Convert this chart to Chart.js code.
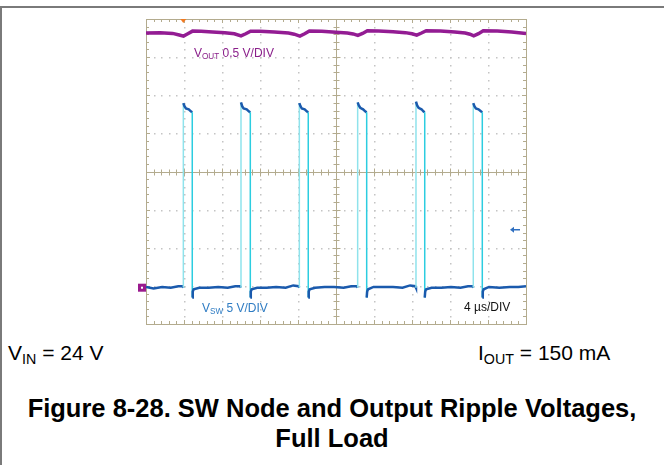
<!DOCTYPE html>
<html>
<head>
<meta charset="utf-8">
<script src="https://cdn.jsdelivr.net/npm/chart.js@4.4.1/dist/chart.umd.min.js"></script>
<style>
  body { margin: 0; background: #fff; font-family: "Liberation Sans", Arial, sans-serif; }
  #page { position: relative; width: 664px; height: 465px; overflow: hidden; }
  #frame { position: absolute; left: 0; top: 6px; width: 662px; height: 459px;
           border-top: 2px solid #7a7a7a; border-left: 2px solid #7a7a7a; }
  #wrap { position: absolute; left: 0; top: 0; width: 664px; height: 340px; }
  .lbl { position: absolute; white-space: nowrap; }
  .sub { font-size: 0.68em; position: relative; top: 0.28em; }
  #title { position: absolute; left: 0; width: 664px; top: 393px; text-align: center;
           font-weight: bold; font-size: 25.5px; line-height: 30px; color: #000; }
</style>
</head>
<body>
<div id="page">
  <div id="frame"></div>
  <div id="wrap"><canvas id="scope"></canvas></div>
  <div class="lbl" style="left:194px; top:46px; font-size:12px; color:#8a1f8a;">V<span class="sub">OUT</span> 0.5 V/DIV</div>
  <div class="lbl" style="left:202px; top:301px; font-size:12px; color:#2f7cc3;">V<span class="sub">SW</span> 5 V/DIV</div>
  <div class="lbl" style="left:464px; top:300px; font-size:12px; color:#111;">4 &micro;s/DIV</div>
  <div class="lbl" style="left:8px; top:341px; font-size:21px; color:#000;">V<span class="sub">IN</span> = 24 V</div>
  <div class="lbl" style="left:478px; top:341px; font-size:21px; color:#000;">I<span class="sub">OUT</span> = 150 mA</div>
  <div id="title">Figure 8-28. SW Node and Output Ripple Voltages,<br>Full Load</div>
</div>
<script>
// scope settings: 4 us/div, Vsw 5 V/div, Vout 0.5 V/div (AC, mV)
const timeRange = [0, 40]
const swRange = [-4.76, 35.24]
const voutRange = [-3816, 184]
const divsX = 10
const divsY = 8
const triggerTime = 3.93

// SW node, time in us, volts
const swT = [
  0, 0.8, 1.7, 2.6, 3.4, 3.85, 3.93,
  3.93, 4.05, 4.2, 4.5, 4.75, 4.87, 4.87, 4.92, 5.02, 5.6, 6.6, 7.6, 8.6, 9.4, 9.9, 10.0,
  10.0, 10.12, 10.27, 10.6, 10.85, 10.98, 10.98, 11.03, 11.13, 11.7, 12.7, 13.7, 14.7, 15.5, 16.05, 16.14,
  16.14, 16.26, 16.4, 16.7, 16.95, 17.08, 17.08, 17.13, 17.23, 17.8, 18.8, 19.8, 20.8, 21.6, 22.2, 22.28,
  22.28, 22.4, 22.55, 22.85, 23.1, 23.23, 23.23, 23.28, 23.38, 23.95, 25.0, 26.0, 27.0, 27.8, 28.35, 28.42,
  28.42, 28.54, 28.69, 29.0, 29.22, 29.34, 29.34, 29.39, 29.49, 30.06, 31.1, 32.1, 33.1, 33.9, 34.38, 34.45,
  34.45, 34.57, 34.72, 35.0, 35.28, 35.4, 35.4, 35.45, 35.55, 36.1, 37.2, 38.3, 39.2, 40.0
]
const swV = [
  0.1, -0.1, 0.1, 0.0, 0.2, 0.2, 0.0,
  24.2, 23.8, 23.5, 23.4, 23.1, 23.0, -1.3, -0.5, -0.2, 0.0, 0.0, 0.1, 0.0, 0.2, 0.2, 0.0,
  24.3, 23.8, 23.5, 23.4, 23.1, 23.0, -1.3, -0.5, -0.2, 0.0, 0.0, 0.1, 0.0, 0.3, 0.2, 0.0,
  24.2, 23.8, 23.5, 23.4, 23.1, 23.0, -1.3, -0.5, -0.2, 0.0, 0.1, 0.1, 0.0, 0.2, 0.2, 0.0,
  24.3, 23.9, 23.6, 23.4, 23.1, 23.0, -1.3, -0.5, -0.2, 0.1, 0.1, 0.1, 0.0, 0.3, 0.2, 0.0,
  24.4, 23.9, 23.6, 23.4, 23.1, 23.0, -1.3, -0.5, -0.2, 0.0, 0.0, 0.1, 0.0, 0.2, 0.2, 0.0,
  24.2, 23.8, 23.5, 23.4, 23.1, 23.0, -1.3, -0.5, -0.2, 0.1, 0.0, 0.1, 0.1, 0.2
]

// output ripple, time in us, mV
const voutT = [
  0, 1.5, 2.8, 3.5, 3.95, 4.4, 4.9, 5.8, 7.0, 8.3, 9.3, 10.0, 10.5, 11.0, 12.0, 13.5,
  15.0, 15.6, 16.2, 16.7, 17.2, 18.5, 20.0, 21.2, 21.8, 22.3, 22.8, 23.3, 24.5, 26.0,
  27.3, 28.0, 28.5, 29.0, 29.5, 31.0, 32.5, 33.6, 34.1, 34.5, 35.0, 35.5, 37.0, 38.5, 40.0
]
const voutMv = [
  0, 3, -5, -25, -40, -10, 25, 22, 14, 5, -10, -38, -10, 24, 22, 12,
  0, -15, -40, -10, 26, 22, 10, 0, -12, -32, -5, 30, 28, 18,
  5, -10, -28, 0, 30, 26, 14, 0, -15, -38, -8, 30, 26, 12, -5
]

const pts = (xs, ys) => xs.map((x, i) => ({ x: x, y: ys[i] }))

const vertical = ctx => ctx.p0.parsed.x === ctx.p1.parsed.x

// graticule, drawn from the scales
const graticule = {
  id: 'graticule',
  beforeDatasetsDraw(chart) {
    const { ctx, chartArea: a } = chart
    const xs = chart.scales.x, ys = chart.scales.y
    const tan = '#b3ab8e'
    const dx = (timeRange[1] - timeRange[0]) / divsX
    const dy = (swRange[1] - swRange[0]) / divsY
    const px = v => Math.round(xs.getPixelForValue(v)) + 0.5
    const py = v => Math.round(ys.getPixelForValue(v)) + 0.5
    ctx.save()
    // dotted major lines
    ctx.fillStyle = '#c4c4c4'
    for (let i = 1; i < divsX; i++) {
      if (i === divsX / 2) continue
      const x = px(timeRange[0] + i * dx)
      for (let k = 1; k < divsY * 5; k++) ctx.fillRect(x - 0.5, py(swRange[0] + k * dy / 5) - 0.5, 1.5, 1.5)
    }
    for (let j = 1; j < divsY; j++) {
      if (j === divsY / 2) continue
      const y = py(swRange[0] + j * dy)
      for (let k = 1; k < divsX * 5; k++) ctx.fillRect(px(timeRange[0] + k * dx / 5) - 0.5, y - 0.5, 1.5, 1.5)
    }
    // centre lines and frame
    ctx.strokeStyle = tan
    ctx.lineWidth = 1
    const cx = px(timeRange[0] + dx * divsX / 2)
    const cy = py(swRange[0] + dy * divsY / 2)
    ctx.beginPath()
    ctx.moveTo(cx, a.top); ctx.lineTo(cx, a.bottom)
    ctx.moveTo(a.left, cy); ctx.lineTo(a.right, cy)
    for (let k = 1; k < divsX * 5; k++) {
      const x = px(timeRange[0] + k * dx / 5)
      const len = k % 5 === 0 ? 4 : 3
      ctx.moveTo(x, cy - len); ctx.lineTo(x, cy + len)
      ctx.moveTo(x, a.top); ctx.lineTo(x, a.top + len)
      ctx.moveTo(x, a.bottom); ctx.lineTo(x, a.bottom - len)
    }
    for (let k = 1; k < divsY * 5; k++) {
      const y = py(swRange[0] + k * dy / 5)
      const len = k % 5 === 0 ? 4 : 3
      ctx.moveTo(cx - len, y); ctx.lineTo(cx + len, y)
      ctx.moveTo(a.left, y); ctx.lineTo(a.left + len, y)
      ctx.moveTo(a.right, y); ctx.lineTo(a.right - len, y)
    }
    ctx.stroke()
    ctx.strokeRect(Math.round(a.left) + 0.5, Math.round(a.top) + 0.5, Math.round(a.right - a.left), Math.round(a.bottom - a.top))
    ctx.restore()
  },
  afterDraw(chart) {
    const { ctx, chartArea: a } = chart
    const gy = chart.scales.y.getPixelForValue(0)
    const tx = chart.scales.x.getPixelForValue(triggerTime)
    ctx.save()
    // channel ground marker
    ctx.fillStyle = '#9a1a8e'
    ctx.fillRect(a.left - 8, gy - 4, 8, 8)
    ctx.fillStyle = '#fff'
    ctx.fillRect(a.left - 5, gy - 1, 2, 2)
    // trigger position
    ctx.fillStyle = '#f07a22'
    ctx.beginPath()
    ctx.moveTo(tx - 3, a.top); ctx.lineTo(tx + 3, a.top); ctx.lineTo(tx, a.top + 4)
    ctx.fill()
    // trigger level arrow
    const ly = chart.scales.y.getPixelForValue(7.6)
    ctx.strokeStyle = '#2f6fc0'
    ctx.fillStyle = '#2f6fc0'
    ctx.lineWidth = 1.5
    ctx.beginPath()
    ctx.moveTo(a.right - 13, ly); ctx.lineTo(a.right - 6, ly)
    ctx.stroke()
    ctx.beginPath()
    ctx.moveTo(a.right - 16, ly); ctx.lineTo(a.right - 12, ly - 3); ctx.lineTo(a.right - 12, ly + 3)
    ctx.fill()
    ctx.restore()
  }
}

new Chart(document.getElementById('scope'), {
  type: 'line',
  data: {
    datasets: [
      {
        label: 'VOUT',
        data: pts(voutT, voutMv),
        yAxisID: 'y2',
        borderColor: '#931c93',
        borderWidth: 3.5,
        pointRadius: 0,
        tension: 0,
      },
      {
        label: 'VSW',
        data: pts(swT, swV),
        yAxisID: 'y',
        borderColor: '#1a5aad',
        borderWidth: 2.5,
        pointRadius: 0,
        tension: 0,
        segment: {
          borderColor: ctx => vertical(ctx) ? (ctx.p1.parsed.y > ctx.p0.parsed.y ? '#8fe3ec' : '#2ccde0') : undefined,
          borderWidth: ctx => vertical(ctx) ? 1.5 : undefined,
        },
      },
    ]
  },
  options: {
    responsive: true,
    maintainAspectRatio: false,
    animation: false,
    layout: { padding: { left: 146, right: 138, top: 19, bottom: 16 } },
    scales: {
      x: { type: 'linear', display: false, min: timeRange[0], max: timeRange[1] },
      y: { display: false, min: swRange[0], max: swRange[1] },
      y2: { display: false, min: voutRange[0], max: voutRange[1] },
    },
    plugins: { legend: { display: false }, tooltip: { enabled: false } },
  },
  plugins: [graticule]
})
</script>
</body>
</html>
